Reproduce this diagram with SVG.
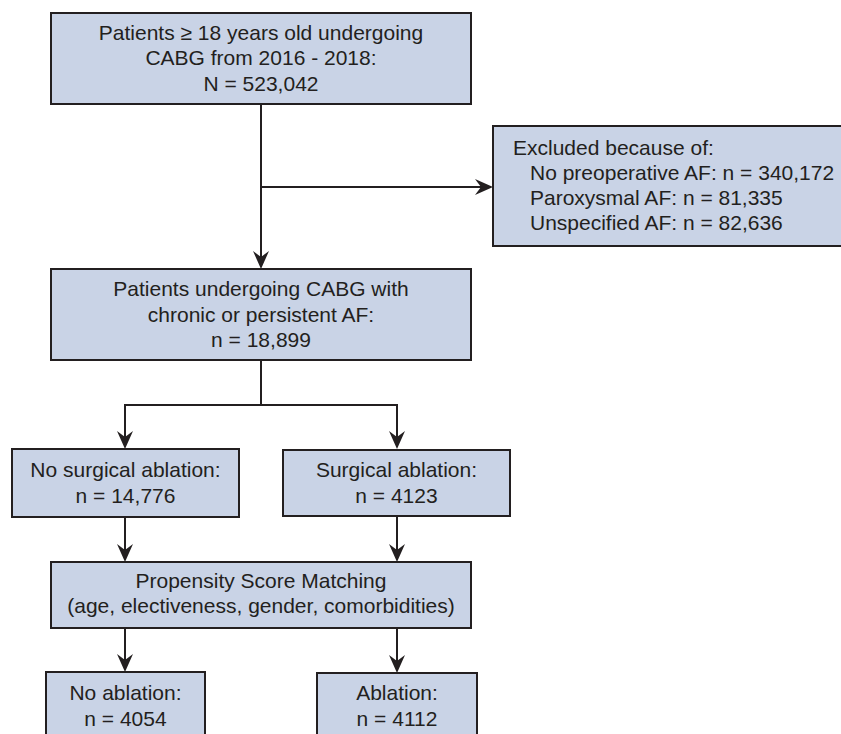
<svg xmlns="http://www.w3.org/2000/svg" width="841" height="734" viewBox="0 0 841 734">
<defs>
<style>
.box{fill:#c9d3e6;stroke:#231f20;stroke-width:2}
.t{font-family:"Liberation Sans",Arial,Helvetica,sans-serif;font-size:21px;fill:#231f20}
.c{text-anchor:middle}
.ln{fill:none;stroke:#231f20;stroke-width:2}
</style>
<marker id="ah" viewBox="-19 -9 20 18" refX="-3" refY="0" markerWidth="20" markerHeight="18" markerUnits="userSpaceOnUse" orient="auto">
<path d="M0,0 L-18,-8 L-12,0 L-18,8 Z" fill="#231f20"/>
</marker>
</defs>
<rect width="841" height="734" fill="#ffffff"/>
<g id="connectors">
<path class="ln" d="M261,104 V266" marker-end="url(#ah)"/>
<path class="ln" d="M261,187 H490" marker-end="url(#ah)"/>
<path class="ln" d="M261,360 V405 H125 V446" marker-end="url(#ah)"/>
<path class="ln" d="M261,405 H397 V446" marker-end="url(#ah)"/>
<path class="ln" d="M125,517 V559" marker-end="url(#ah)"/>
<path class="ln" d="M397,516 V559" marker-end="url(#ah)"/>
<path class="ln" d="M125,628 V669" marker-end="url(#ah)"/>
<path class="ln" d="M397,628 V670" marker-end="url(#ah)"/>
</g>
<g id="n1">
<rect class="box" x="51" y="13" width="420" height="91"/>
<text class="t c" x="261" y="40">Patients ≥ 18 years old undergoing</text>
<text class="t c" x="261" y="65">CABG from 2016 - 2018:</text>
<text class="t c" x="261" y="90.5">N = 523,042</text>
</g>
<g id="excluded">
<rect class="box" x="493" y="126" width="360" height="120"/>
<text class="t" x="513" y="155">Excluded because of:</text>
<text class="t" x="530" y="180">No preoperative AF: n = 340,172</text>
<text class="t" x="530" y="205">Paroxysmal AF: n = 81,335</text>
<text class="t" x="530" y="230">Unspecified AF: n = 82,636</text>
</g>
<g id="n2">
<rect class="box" x="51" y="269" width="420" height="91"/>
<text class="t c" x="261" y="296">Patients undergoing CABG with</text>
<text class="t c" x="261" y="321.5">chronic or persistent AF:</text>
<text class="t c" x="261" y="347">n = 18,899</text>
</g>
<g id="noSurg">
<rect class="box" x="12" y="449" width="227" height="68"/>
<text class="t c" x="125.5" y="477">No surgical ablation:</text>
<text class="t c" x="125.5" y="503">n = 14,776</text>
</g>
<g id="surg">
<rect class="box" x="283" y="450" width="227" height="66"/>
<text class="t c" x="396.5" y="477">Surgical ablation:</text>
<text class="t c" x="396.5" y="503">n = 4123</text>
</g>
<g id="psm">
<rect class="box" x="51" y="562" width="420" height="66"/>
<text class="t c" x="261" y="588">Propensity Score Matching</text>
<text class="t c" x="261" y="613">(age, electiveness, gender, comorbidities)</text>
</g>
<g id="noAbl">
<rect class="box" x="46" y="672" width="159" height="80"/>
<text class="t c" x="125.5" y="700">No ablation:</text>
<text class="t c" x="125.5" y="726">n = 4054</text>
</g>
<g id="abl">
<rect class="box" x="317" y="673" width="160" height="80"/>
<text class="t c" x="397" y="700">Ablation:</text>
<text class="t c" x="397" y="726">n = 4112</text>
</g>
</svg>
